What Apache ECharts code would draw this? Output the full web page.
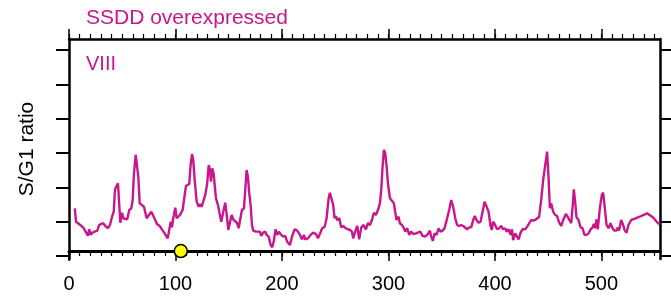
<!DOCTYPE html>
<html>
<head>
<meta charset="utf-8">
<script src="https://cdn.jsdelivr.net/npm/echarts@6/dist/echarts.min.js"></script>
<style>
html,body{margin:0;padding:0;background:#fff;}
#chart{width:671px;height:297px;}
</style>
</head>
<body>
<div id="chart"></div>
<script>
// ---- data ----
const titleText = 'SSDD overexpressed';
const panelLabel = 'VIII';
const yName = 'S/G1 ratio';
const xTickLabels = [0, 100, 200, 300, 400, 500];
const yTickValues = [0.8, 1.0, 1.2, 1.4, 1.6, 1.8, 2.0];
const markerPos = [105];
// [position, S/G1 ratio]
const profile = [
[5.4,1.078],[6.6,1.000],[8.4,0.991],[10.6,0.981],[12.2,0.987],[13.8,0.962],[16.2,0.936],[17.8,0.918],[19.1,0.956],[20.4,0.923],
[21.9,0.936],[24.1,0.942],[26.6,0.948],[28.4,0.981],[30.3,0.987],[32.2,0.991],[34.1,0.975],[36.6,0.962],[38.5,0.981],[40.4,1.029],
[42.0,1.058],[43.2,1.189],[44.8,1.185],[46.0,1.224],[46.9,1.214],[48.2,0.994],[49.8,1.052],[51.0,1.020],[52.3,1.010],[54.7,1.014],
[56.6,1.068],[58.5,1.078],[59.8,1.126],[61.0,1.282],[62.6,1.389],[63.8,1.383],[65.1,1.262],[66.4,1.107],[68.5,1.097],[70.4,1.087],
[72.9,1.020],[75.1,1.039],[77.3,1.058],[79.1,1.049],[81.0,1.010],[82.6,0.987],[85.1,0.975],[87.6,0.952],[89.8,0.932],[92.7,0.903],
[94.2,0.893],[95.5,1.000],[96.7,0.967],[97.9,1.020],[99.8,1.082],[101.1,1.020],[102.6,1.010],[104.2,1.039],[106.7,1.068],[108.2,1.136],
[109.8,1.208],[111.4,1.214],[112.9,1.220],[114.2,1.330],[115.5,1.394],[116.7,1.359],[118.0,1.243],[119.9,1.117],[121.8,1.087],[123.0,1.103],
[124.6,1.087],[126.1,1.097],[128.0,1.156],[129.8,1.224],[131.2,1.330],[132.4,1.301],[133.3,1.233],[134.5,1.311],[135.8,1.282],[138.0,1.136],
[139.9,1.097],[141.7,1.039],[143.0,1.000],[144.9,1.058],[146.7,1.111],[148.3,1.029],[149.6,0.952],[151.1,0.962],[152.7,1.039],[154.6,1.010],
[156.1,1.010],[157.7,0.994],[159.3,0.962],[160.8,1.014],[162.4,1.068],[164.3,1.078],[165.5,1.185],[166.8,1.301],[168.0,1.262],[169.3,1.165],
[170.6,1.097],[171.8,0.981],[173.0,0.948],[175.6,0.942],[177.4,0.936],[179.3,0.942],[180.5,0.917],[182.4,0.936],[184.3,0.942],[185.6,0.923],
[187.5,0.913],[189.4,0.864],[190.9,0.851],[192.5,0.893],[194.0,0.956],[195.6,0.923],[197.1,0.942],[199.3,0.923],[201.2,0.913],[203.1,0.917],
[204.9,0.883],[207.5,0.864],[209.4,0.913],[211.9,0.956],[214.3,0.948],[216.9,0.923],[218.7,0.897],[220.6,0.923],[221.8,0.897],[224.4,0.903],
[226.9,0.923],[229.3,0.936],[231.9,0.928],[233.8,0.903],[235.6,0.897],[237.8,0.962],[240.1,0.971],[241.9,1.020],[243.8,1.136],[245.0,1.169],
[246.6,1.165],[248.1,1.097],[249.4,1.020],[250.6,1.033],[251.9,1.010],[253.8,1.020],[255.6,0.967],[257.5,0.975],[259.8,0.962],[261.9,0.956],
[263.8,0.952],[265.7,0.942],[266.9,0.903],[268.8,0.942],[270.7,0.975],[272.5,0.897],[274.4,0.965],[276.3,0.981],[278.8,0.956],[280.7,0.991],
[282.6,0.981],[284.5,1.010],[286.3,1.052],[288.2,1.039],[290.1,1.068],[292.0,1.107],[293.2,1.185],[294.5,1.320],[295.7,1.418],[296.9,1.402],
[298.3,1.320],[299.5,1.224],[301.4,1.136],[303.2,1.126],[305.1,1.107],[306.3,1.058],[307.6,1.010],[309.5,1.029],[310.7,0.991],[312.6,0.981],
[314.5,0.962],[315.7,0.942],[317.6,0.962],[319.5,0.923],[321.3,0.942],[323.6,0.928],[325.8,0.932],[327.6,0.923],[329.8,0.942],[332.0,0.917],
[334.5,0.913],[337.0,0.928],[338.9,0.948],[340.1,0.913],[341.7,0.888],[343.3,0.932],[345.2,0.923],[347.1,0.962],[348.9,0.942],[350.8,0.948],
[352.7,0.962],[355.1,1.020],[357.0,1.068],[358.9,1.126],[360.8,1.087],[362.7,1.020],[364.5,0.981],[366.4,0.975],[368.3,0.981],[370.2,0.975],
[372.0,0.981],[373.9,0.956],[375.8,0.967],[377.7,0.967],[379.6,1.010],[381.1,1.033],[382.7,1.010],[384.6,0.994],[386.5,1.000],[388.4,1.058],
[390.3,1.117],[392.1,1.126],[394.0,1.058],[395.9,0.975],[397.1,0.952],[398.3,1.000],[400.2,0.981],[402.1,0.956],[404.0,0.962],[405.8,0.975],
[407.7,0.956],[409.6,0.962],[410.9,0.942],[412.8,0.956],[414.7,0.923],[415.9,0.956],[417.1,0.893],[419.0,0.932],[420.3,0.942],[422.2,0.897],
[424.1,0.936],[425.9,0.956],[428.4,0.956],[430.3,0.971],[432.1,0.971],[434.0,1.010],[435.9,1.006],[437.8,1.010],[439.6,1.006],[441.5,1.029],
[443.4,1.126],[445.3,1.243],[447.2,1.330],[449.0,1.408],[450.3,1.262],[451.6,1.078],[452.8,1.107],[454.7,1.058],[456.5,1.039],[458.4,1.033],
[460.3,0.994],[462.2,0.975],[464.1,1.010],[466.6,1.045],[468.5,1.026],[470.3,1.033],[471.6,0.991],[473.2,1.107],[474.1,1.189],[475.3,1.117],
[476.6,1.026],[478.5,1.010],[480.4,0.967],[482.3,0.962],[484.1,0.923],[486.0,0.923],[487.9,0.932],[489.8,0.956],[491.7,0.967],[492.9,0.987],
[494.1,0.962],[495.4,1.014],[496.6,0.956],[498.5,1.078],[500.4,1.156],[501.6,1.169],[502.9,1.097],[504.8,0.981],[506.7,0.962],[508.5,0.991],
[510.4,0.962],[512.3,0.948],[514.2,0.948],[515.4,0.967],[516.6,0.948],[518.5,1.010],[520.4,0.981],[521.7,0.952],[523.6,0.936],[525.4,0.981],
[527.9,1.010],[531.1,1.017],[535.8,1.029],[542.9,1.049],[548.3,1.026],[552.8,0.994],[554.9,0.984]
];

const X_MIN = 0, X_MAX = 555;
const Y_MIN = 0.7827, Y_MAX = 2.0644;
const Y_AXIS_LINE = 0.829; // value at which the x axis is drawn
const magenta = '#C8168C';
const font = 'Liberation Sans, Arial, Helvetica, sans-serif';

const majorTicks = xTickLabels.slice();
const minorTicks = [];
for (let v = X_MIN; v <= 550; v += 10) minorTicks.push(v);

const chart = echarts.init(document.getElementById('chart'), null, {renderer: 'canvas'});

function xAx(gridIndex, position, opts) {
  return Object.assign({
    type: 'value', gridIndex, position, min: X_MIN, max: X_MAX,
    splitLine: {show: false}, axisLabel: {show: false},
    axisLine: {show: false}, axisTick: {show: false}
  }, opts);
}

const option = {
  animation: false,
  backgroundColor: '#ffffff',
  textStyle: {fontFamily: font},
  title: [
    {text: titleText, left: 86, top: 8, padding: 0,
     textStyle: {color: magenta, fontSize: 21, fontWeight: 'normal', fontFamily: font}},
    {text: panelLabel, left: 86, top: 54, padding: 0,
     textStyle: {color: magenta, fontSize: 20, fontWeight: 'normal', fontFamily: font}}
  ],
  grid: [
    {left: 69, right: 11, top: 39, bottom: 46},
    {left: 69, right: 11, top: 39, bottom: 38}
  ],
  xAxis: [
    // bottom major
    xAx(0, 'bottom', {
      axisLine: {show: true, lineStyle: {color: '#000', width: 3}},
      axisTick: {show: true, length: 10, lineStyle: {color: '#000', width: 1.5}, customValues: majorTicks},
      axisLabel: {show: true, customValues: xTickLabels, color: '#000', fontSize: 20, margin: 23, fontFamily: font}
    }),
    // bottom minor
    xAx(0, 'bottom', {
      axisTick: {show: true, length: 5, lineStyle: {color: '#000', width: 1.2}, customValues: minorTicks}
    }),
    // top major
    xAx(0, 'top', {
      axisLine: {show: true, lineStyle: {color: '#000', width: 2.5}},
      axisTick: {show: true, length: 10, lineStyle: {color: '#000', width: 1.5}, customValues: majorTicks}
    }),
    // top minor
    xAx(0, 'top', {
      axisTick: {show: true, length: 5, lineStyle: {color: '#000', width: 1.2}, customValues: minorTicks}
    }),
    // data x axis (grid 1, hidden)
    xAx(1, 'bottom', {show: false})
  ],
  yAxis: [
    {type: 'value', gridIndex: 0, min: 0, max: 1, show: false},
    {type: 'value', gridIndex: 1, position: 'left', min: Y_MIN, max: Y_MAX,
     name: yName, nameLocation: 'middle', nameGap: 25, nameRotate: 90,
     nameTextStyle: {color: '#000', fontSize: 21, fontFamily: font, padding: [0, 0, 6, 0]},
     splitLine: {show: false},
     axisLine: {show: true, lineStyle: {color: '#000', width: 2.5}},
     axisTick: {show: true, length: 13, lineStyle: {color: '#000', width: 2}, customValues: yTickValues},
     axisLabel: {show: false}},
    {type: 'value', gridIndex: 1, position: 'right', min: Y_MIN, max: Y_MAX,
     splitLine: {show: false},
     axisLine: {show: true, lineStyle: {color: '#000', width: 2.5}},
     axisTick: {show: true, length: 11, lineStyle: {color: '#000', width: 2}, customValues: yTickValues},
     axisLabel: {show: false}}
  ],
  series: [
    {type: 'line', xAxisIndex: 4, yAxisIndex: 1, data: profile,
     showSymbol: false, symbol: 'none',
     lineStyle: {color: magenta, width: 2.4}, z: 3},
    {type: 'scatter', xAxisIndex: 4, yAxisIndex: 1,
     data: markerPos.map(p => [p, Y_AXIS_LINE]),
     symbol: 'circle', symbolSize: 13,
     itemStyle: {color: '#FFFF00', borderColor: '#000', borderWidth: 1.5, opacity: 1},
     z: 10}
  ]
};
chart.setOption(option);
</script>
</body>
</html>
